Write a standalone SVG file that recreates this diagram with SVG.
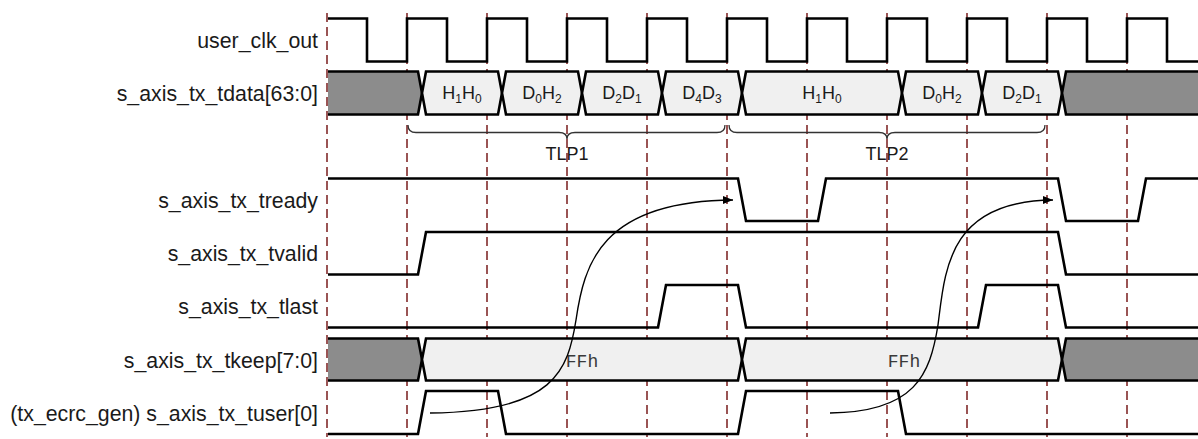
<svg xmlns="http://www.w3.org/2000/svg" width="1198" height="439" viewBox="0 0 1198 439">
<style>
.lbl{font-family:"Liberation Sans",Arial,sans-serif;font-size:21.3px;fill:#1a1a1a;text-anchor:end}
.grid{stroke:#7a1c1c;stroke-width:1.5;stroke-dasharray:9,5;fill:none}
.sig{stroke:#000;stroke-width:2.6;fill:none;stroke-linejoin:miter}
.bus{stroke:#000;stroke-width:2.6;fill:#f0f0f0;stroke-linejoin:miter}
.bad{stroke:#000;stroke-width:2.6;fill:#8c8c8c;stroke-linejoin:miter}
.val{font-family:"Liberation Sans",Arial,sans-serif;font-size:18px;fill:#1a1a1a;text-anchor:middle}
.sub{font-size:12px}
.hex{font-family:"Liberation Mono","Courier New",monospace;font-size:18px;fill:#3a3a3a;text-anchor:middle}
.brace{stroke:#333;stroke-width:1.3;fill:none}
.arr{stroke:#000;stroke-width:1.4;fill:none}
</style>
<defs>
<marker id="ah" markerUnits="userSpaceOnUse" markerWidth="11" markerHeight="9" refX="10" refY="4" orient="auto">
<path d="M0,0 L10,4 L0,8 Z" fill="#000"/>
</marker>
</defs>
<g id="grid">
<path class="grid" d="M327,13V437M407,13V437M487,13V437M567,13V437M647,13V437M727,13V437M807,13V437M887,13V437M967,13V437M1047,13V437M1127,13V437"/>
</g>
<g id="user_clk_out">
<text class="lbl" x="318" y="47.5">user_clk_out</text>
<path class="sig" d="M328,18.5 H367 V61.5 H407 V18.5 H447 V61.5 H487 V18.5 H527 V61.5 H567 V18.5 H607 V61.5 H647 V18.5 H687 V61.5 H727 V18.5 H767 V61.5 H807 V18.5 H847 V61.5 H887 V18.5 H927 V61.5 H967 V18.5 H1007 V61.5 H1047 V18.5 H1087 V61.5 H1127 V18.5 H1167 V61.5 H1198"/>
</g>
<g id="s_axis_tx_tdata">
<text class="lbl" x="318" y="101">s_axis_tx_tdata[63:0]</text>
<path class="bad" d="M328,71.5 H418 L422,93 L418,114.5 H328"/>
<path class="bus" d="M422,93 L426,71.5 H498 L502,93 L498,114.5 H426 Z"/>
<path class="bus" d="M502,93 L506,71.5 H578 L582,93 L578,114.5 H506 Z"/>
<path class="bus" d="M582,93 L586,71.5 H658 L662,93 L658,114.5 H586 Z"/>
<path class="bus" d="M662,93 L666,71.5 H738 L742,93 L738,114.5 H666 Z"/>
<path class="bus" d="M742,93 L746,71.5 H898 L902,93 L898,114.5 H746 Z"/>
<path class="bus" d="M902,93 L906,71.5 H978 L982,93 L978,114.5 H906 Z"/>
<path class="bus" d="M982,93 L986,71.5 H1058 L1062,93 L1058,114.5 H986 Z"/>
<path class="bad" d="M1198,71.5 H1066 L1062,93 L1066,114.5 H1198"/>
<text class="val" x="462" y="98.5">H<tspan class="sub" dy="4">1</tspan><tspan dy="-4">H</tspan><tspan class="sub" dy="4">0</tspan></text>
<text class="val" x="542" y="98.5">D<tspan class="sub" dy="4">0</tspan><tspan dy="-4">H</tspan><tspan class="sub" dy="4">2</tspan></text>
<text class="val" x="622" y="98.5">D<tspan class="sub" dy="4">2</tspan><tspan dy="-4">D</tspan><tspan class="sub" dy="4">1</tspan></text>
<text class="val" x="702" y="98.5">D<tspan class="sub" dy="4">4</tspan><tspan dy="-4">D</tspan><tspan class="sub" dy="4">3</tspan></text>
<text class="val" x="822" y="98.5">H<tspan class="sub" dy="4">1</tspan><tspan dy="-4">H</tspan><tspan class="sub" dy="4">0</tspan></text>
<text class="val" x="942" y="98.5">D<tspan class="sub" dy="4">0</tspan><tspan dy="-4">H</tspan><tspan class="sub" dy="4">2</tspan></text>
<text class="val" x="1022" y="98.5">D<tspan class="sub" dy="4">2</tspan><tspan dy="-4">D</tspan><tspan class="sub" dy="4">1</tspan></text>
</g>
<g id="TLP1">
<path class="brace" d="M408,125 Q408,132.5 416,132.5 H559 Q567,132.5 567,139 Q567,132.5 575,132.5 H717 Q725,132.5 725,125"/>
<text class="val" x="567" y="160">TLP1</text>
</g>
<g id="TLP2">
<path class="brace" d="M729,125 Q729,132.5 737,132.5 H879 Q887,132.5 887,139 Q887,132.5 895,132.5 H1037 Q1045,132.5 1045,125"/>
<text class="val" x="887" y="160">TLP2</text>
</g>
<g id="s_axis_tx_tready">
<text class="lbl" x="318" y="207.5">s_axis_tx_tready</text>
<path class="sig" d="M328,178.5 H738 L746,221 H818 L826,178.5 H1058 L1066,221 H1138 L1146,178.5 H1198"/>
</g>
<g id="s_axis_tx_tvalid">
<text class="lbl" x="318" y="261">s_axis_tx_tvalid</text>
<path class="sig" d="M328,274.5 H418 L426,232 H1058 L1066,274.5 H1198"/>
</g>
<g id="s_axis_tx_tlast">
<text class="lbl" x="318" y="314">s_axis_tx_tlast</text>
<path class="sig" d="M328,327.5 H658 L666,285 H738 L746,327.5 H978 L986,285 H1058 L1066,327.5 H1198"/>
</g>
<g id="s_axis_tx_tkeep">
<text class="lbl" x="318" y="367.5">s_axis_tx_tkeep[7:0]</text>
<path class="bad" d="M328,338.5 H418 L422,359.5 L418,380.5 H328"/>
<path class="bus" d="M422,359.5 L426,338.5 H738 L742,359.5 L738,380.5 H426 Z"/>
<path class="bus" d="M742,359.5 L746,338.5 H1058 L1062,359.5 L1058,380.5 H746 Z"/>
<path class="bad" d="M1198,338.5 H1066 L1062,359.5 L1066,380.5 H1198"/>
<text class="hex" x="582" y="366.5">FFh</text>
<text class="hex" x="904" y="366.5">FFh</text>
</g>
<g id="s_axis_tx_tuser">
<text class="lbl" x="318" y="420.5">(tx_ecrc_gen) s_axis_tx_tuser[0]</text>
<path class="sig" d="M328,434 H418 L426,391 H498 L506,434 H738 L746,391 H898 L906,434 H1198"/>
</g>
<g id="connectors">
<path class="arr" marker-end="url(#ah)" d="M430,413 C555,412 568,370 576,320 C584,265 600,201 733,200"/>
<path class="arr" marker-end="url(#ah)" d="M830,413 C915,412 930,375 938,325 C945,270 948,201 1053,200"/>
</g>
</svg>
